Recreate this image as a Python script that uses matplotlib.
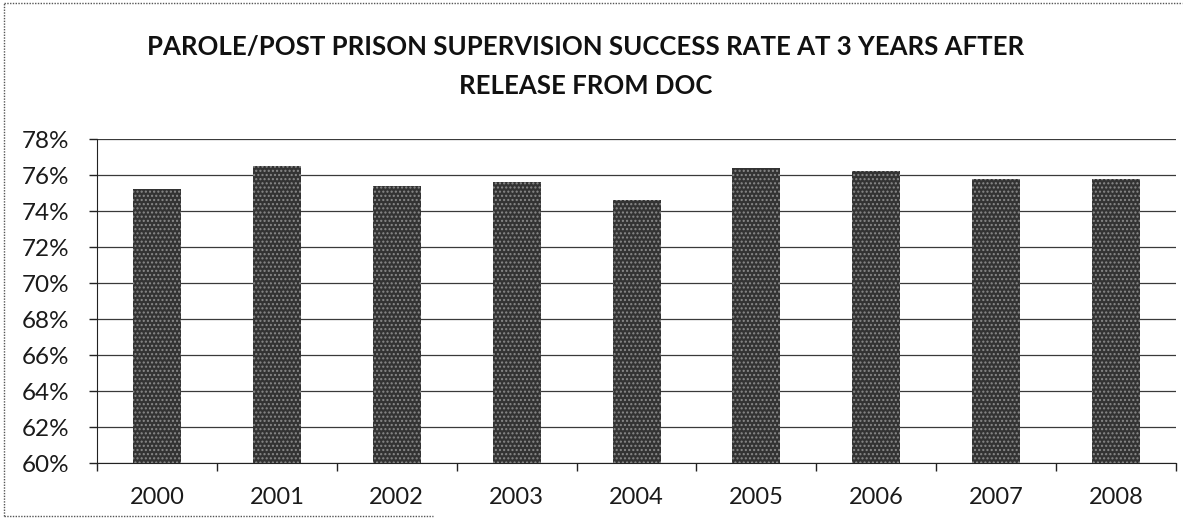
import numpy as np
import matplotlib.pyplot as plt
from matplotlib.lines import Line2D
from matplotlib.ticker import MultipleLocator, FuncFormatter

plt.rcParams['font.family'] = ['Lato', 'DejaVu Sans']

years = ['2000', '2001', '2002', '2003', '2004', '2005', '2006', '2007', '2008']
success_rate = [75.2, 76.5, 75.4, 75.6, 74.6, 76.4, 76.2, 75.8, 75.8]

title = 'PAROLE/POST PRISON SUPERVISION SUCCESS RATE AT 3 YEARS AFTER\nRELEASE FROM DOC'

fig = plt.figure(figsize=(11.86, 5.27), dpi=100)
ax = fig.add_axes([0.0818, 0.1214, 0.9098, 0.6148])

x = np.arange(len(years))
ax.bar(x, success_rate, width=0.40, bottom=0, color='#333333',
       edgecolor='#8a8a8a', hatch='....', linewidth=0, zorder=3)

ax.set_ylim(60, 78)
ax.set_xlim(-0.5, len(years) - 0.5)
ax.yaxis.set_major_locator(MultipleLocator(2))
ax.yaxis.set_major_formatter(FuncFormatter(lambda v, p: f'{v:.0f}%'))
ax.grid(axis='y', color='#3a3a3a', linewidth=0.9, zorder=0)

# year labels sit between the ticks, ticks mark the category edges
ax.set_xticks(x)
ax.set_xticklabels(years, fontsize=17)
ax.set_xticks(np.arange(len(years) + 1) - 0.5, minor=True)
ax.tick_params(axis='x', which='major', length=0, pad=17)
ax.tick_params(axis='x', which='minor', length=6, width=1, color='#222')
ax.tick_params(axis='y', length=6, width=1, color='#222', labelsize=17.5,
               pad=14, labelcolor='#1a1a1a')
ax.tick_params(axis='x', labelcolor='#1a1a1a')

for side in ['top', 'right']:
    ax.spines[side].set_visible(False)
ax.spines['left'].set_color('#222')
ax.spines['bottom'].set_color('#222')

fig.text(0.494, 0.873, title, ha='center', va='center', fontsize=18.5,
         fontweight='bold', linespacing=1.75, color='#111')

# scanned chart frame: top, left and part of the bottom edge
frame = dict(color='#555', linewidth=1, linestyle=(0, (1, 1)))
fig.add_artist(Line2D([0.003, 0.997], [0.994, 0.994], **frame))
fig.add_artist(Line2D([0.003, 0.003], [0.02, 0.994], **frame))
fig.add_artist(Line2D([0.003, 0.365], [0.02, 0.02], **frame))

fig.savefig('out.png', dpi=100, facecolor='white')
